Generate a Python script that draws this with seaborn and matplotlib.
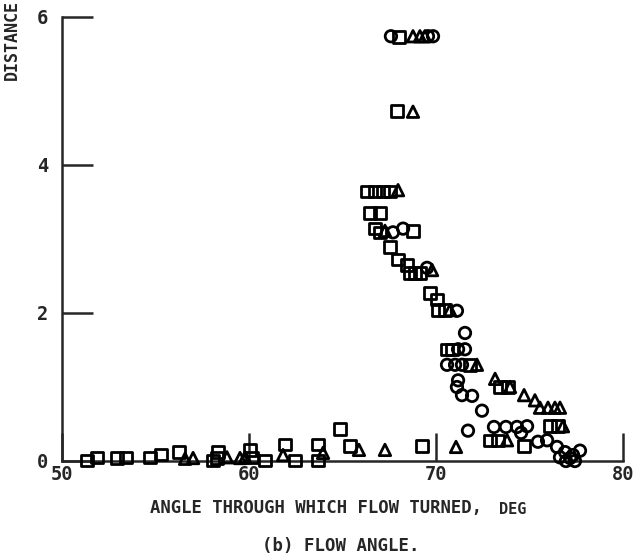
import matplotlib
matplotlib.use("Agg")
import matplotlib.pyplot as plt
import seaborn as sns
import pandas as pd

# ---- data ----
sq_x = [51.34, 51.87, 52.94, 53.42, 54.71, 55.29, 56.26, 58.07, 58.29, 58.34,
        60.05, 60.16, 60.86, 61.93, 62.46, 63.69, 63.69, 64.87, 65.40, 69.25,
        72.89, 73.32, 74.71, 76.10, 76.52, 73.42, 73.85,
        68.02, 67.91, 66.31, 66.74, 67.17, 67.54, 66.47, 67.01, 66.74, 67.01,
        68.77, 67.54, 67.97, 68.45, 68.61, 68.88, 69.14, 69.68, 70.05, 70.11,
        70.48, 70.59, 70.86, 71.82]
sq_y = [0.01, 0.05, 0.04, 0.05, 0.05, 0.09, 0.12, 0.01, 0.04, 0.12,
        0.15, 0.05, 0.01, 0.22, 0.01, 0.22, 0.01, 0.43, 0.20, 0.20,
        0.28, 0.28, 0.20, 0.47, 0.47, 1.00, 1.00,
        5.73, 4.73, 3.64, 3.64, 3.64, 3.64, 3.35, 3.35, 3.14, 3.09,
        3.11, 2.89, 2.72, 2.65, 2.54, 2.54, 2.54, 2.27, 2.18, 2.04,
        2.04, 1.51, 1.51, 1.30]

ci_x = [67.59, 69.57, 69.84, 67.70, 68.24, 69.52, 71.12, 71.55, 71.18, 71.55,
        70.59, 71.02, 71.39, 71.18, 71.12, 71.39, 71.93, 72.46, 71.71, 73.10,
        73.74, 74.33, 74.87, 74.55, 75.45, 75.94, 76.47, 76.90, 77.17, 77.43,
        77.70, 77.33, 76.95, 76.63]
ci_y = [5.74, 5.74, 5.74, 3.09, 3.14, 2.61, 2.03, 1.73, 1.51, 1.51,
        1.30, 1.30, 1.30, 1.09, 1.00, 0.89, 0.88, 0.68, 0.41, 0.46,
        0.46, 0.46, 0.47, 0.38, 0.26, 0.28, 0.19, 0.12, 0.04, 0.00,
        0.14, 0.08, 0.00, 0.05]

tr_x = [56.58, 57.01, 58.82, 59.52, 59.79, 61.82, 63.96, 65.88, 67.27, 71.07,
        73.80, 76.79, 73.16, 73.96, 74.71, 75.29, 75.56, 75.99, 76.36, 76.63,
        68.77, 69.14, 69.41, 68.77, 67.97, 69.79, 70.75, 67.27, 72.19]
tr_y = [0.03, 0.04, 0.05, 0.04, 0.05, 0.08, 0.11, 0.15, 0.15, 0.19,
        0.28, 0.47, 1.11, 1.00, 0.89, 0.82, 0.72, 0.72, 0.72, 0.72,
        5.74, 5.74, 5.74, 4.72, 3.66, 2.58, 2.04, 3.11, 1.30]

x_ticks = [50, 60, 70, 80]
y_ticks = [0, 2, 4, 6]

sns.set_style("ticks")
plt.rcParams['font.family'] = ['DejaVu Sans Mono', 'DejaVu Sans']

fig = plt.figure(figsize=(6.37, 5.59), dpi=100)
ax = fig.add_axes([62/637, 98/559, (623-62)/637, (461-17)/559])

series = [(sq_x, sq_y, 's'), (ci_x, ci_y, 'o'), (tr_x, tr_y, '^')]
for xs, ys, m in series:
    df = pd.DataFrame({"x": xs, "y": ys})
    sns.scatterplot(data=df, x="x", y="y", marker=m, s=68, ax=ax,
                    facecolor="none", edgecolor="black", linewidth=2.0,
                    clip_on=False, zorder=3)

ax.set_xlim(50, 80)
ax.set_ylim(0, 6)
ax.set_xticks(x_ticks)
ax.set_yticks(y_ticks)
ax.set_xticklabels([str(v) for v in x_ticks], fontsize=13.5, fontweight='bold')
ax.set_yticklabels([str(v) for v in y_ticks], fontsize=13.5, fontweight='bold')
ax.tick_params(axis='x', direction='in', length=20, width=1.8, pad=3)
ax.tick_params(axis='y', direction='in', length=22, width=1.8, pad=10)
for s in ['top', 'right']:
    ax.spines[s].set_visible(False)
for s in ['left', 'bottom']:
    ax.spines[s].set_linewidth(1.8)
ax.set_xlabel("")
ax.set_ylabel("")

fig.text(12/637, 1 - 0/559, "DISTANCE", rotation=90, ha='center', va='top',
         fontsize=12, fontweight='bold')
fig.text(150/637, 1 - 508/559, "ANGLE THROUGH WHICH FLOW TURNED,", ha='left',
         va='center', fontsize=12.4, fontweight='bold')
fig.text(499/637, 1 - 510/559, "DEG", ha='left', va='center', fontsize=11,
         fontweight='bold')
fig.text(341/637, 1 - 546/559, "(b) FLOW ANGLE.", ha='center', va='center',
         fontsize=12.5, fontweight='bold')

fig.savefig("out.png", dpi=100)
